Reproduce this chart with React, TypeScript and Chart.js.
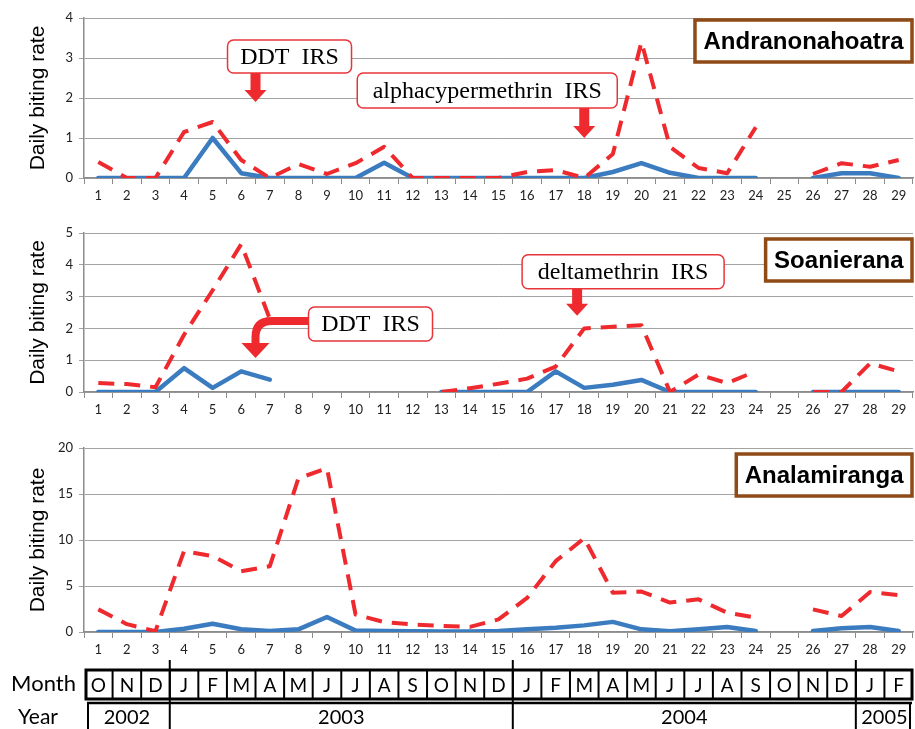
import React, { useEffect, useRef } from "react";
import { Chart, registerables } from "chart.js";
Chart.register(...registerables);

// ---------- DATA ----------
const categories = ["1","2","3","4","5","6","7","8","9","10","11","12","13","14","15","16","17","18","19","20","21","22","23","24","25","26","27","28","29"];
const months = ["O","N","D","J","F","M","A","M","J","J","A","S","O","N","D","J","F","M","A","M","J","J","A","S","O","N","D","J","F"];
const yearLabels = ["2002","2003","2004","2005"];
const yearSpans = [3, 12, 12, 2];

// Andranonahoatra
const blueAndra = [0,0,0,0,1.0,0.12,0,0,0,0,0.38,0,0,0,0,0,0,0,0.15,0.37,0.13,0,0,0,null,0,0.12,0.12,0];
const redAndra = [0.4,0,0,1.15,1.4,0.45,0,0.35,0.1,0.37,0.78,0,0,0,0,0.15,0.2,0,0.6,3.4,0.78,0.25,0.12,1.27,null,0.1,0.37,0.28,0.45];
// Soanierana
const blueSoan = [0,0,0,0.75,0.13,0.65,0.39,null,null,null,null,null,0,0,0,0,0.65,0.13,0.23,0.38,0,0,0,0,null,0,0,0,0];
const redSoan = [0.28,0.25,0.15,1.8,3.2,4.65,2.3,null,null,null,null,null,0,0.12,0.26,0.42,0.8,2.0,2.05,2.1,0,0.55,0.28,0.65,null,0,0,0.9,0.65];
// Analamiranga
const blueAnal = [0,0,0,0.36,0.9,0.29,0.1,0.29,1.63,0.15,0.12,0.08,0.05,0.05,0.1,0.29,0.47,0.72,1.1,0.29,0.07,0.29,0.54,0.1,null,0.1,0.4,0.54,0.1];
const redAnal = [2.46,0.85,0.1,8.8,8.25,6.6,7.15,16.7,17.8,1.9,1.08,0.83,0.65,0.55,1.37,3.7,7.7,10.2,4.27,4.4,3.2,3.55,2.1,1.56,null,2.46,1.74,4.34,4.0];

const RED = "#EE2A2E";
const BLUE = "#3B7CC0";
const GRID = "#A3A3A3";
const AXIS = "#8C8C8C";

type Callout = { text: string; x: number; y: number; box: number[]; kind: "down" | "curve" };
type PanelCfg = {
  site: string; siteDy: number; blue: (number | null)[]; red: (number | null)[];
  yMax: number; yStep: number; top: number; height: number; padTop: number; xAxisH: number;
  callouts: Callout[]; table?: boolean;
};

const panels: PanelCfg[] = [
  {
    site: "Andranonahoatra", siteDy: 2, blue: blueAndra, red: redAndra, yMax: 4, yStep: 1,
    top: 0, height: 200, padTop: 18, xAxisH: 22,
    callouts: [
      { text: "DDT  IRS", x: 5.5, y: 1.9, box: [-28, 96, -62, -29], kind: "down" },
      { text: "alphacypermethrin  IRS", x: 17, y: 1.0, box: [-227, 33, -65, -30], kind: "down" },
    ],
  },
  {
    site: "Soanierana", siteDy: 6, blue: blueSoan, red: redSoan, yMax: 5, yStep: 1,
    top: 200, height: 225, padTop: 33, xAxisH: 33,
    callouts: [
      { text: "deltamethrin  IRS", x: 16.75, y: 2.4, box: [-55, 147, -61, -27], kind: "down" },
      { text: "DDT  IRS", x: 5.5, y: 1.07, box: [53, 177, -51, -17], kind: "curve" },
    ],
  },
  {
    site: "Analamiranga", siteDy: 6, blue: blueAnal, red: redAnal, yMax: 20, yStep: 5,
    top: 425, height: 304, padTop: 23, xAxisH: 97,
    callouts: [], table: true,
  },
];

function makeOverlay(p: PanelCfg) {
  return {
    id: "overlay",
    afterDatasetsDraw(chart: any) {
      const ctx = chart.ctx as CanvasRenderingContext2D;
      const xs = chart.scales.x, ys = chart.scales.y, area = chart.chartArea;
      ctx.save();
      // site label
      ctx.font = 'bold 24px "Liberation Sans", Arial, sans-serif';
      const tw = ctx.measureText(p.site).width;
      const bw = tw + 17, bh = 42;
      const bx = area.right - 1 - bw, by = area.top + p.siteDy;
      ctx.fillStyle = "#fff";
      ctx.fillRect(bx, by, bw, bh);
      ctx.lineWidth = 3.5;
      ctx.strokeStyle = "#8E4A17";
      ctx.strokeRect(bx, by, bw, bh);
      ctx.fillStyle = "#000";
      ctx.textAlign = "center";
      ctx.textBaseline = "middle";
      ctx.fillText(p.site, bx + bw / 2, by + bh / 2 + 1);

      // callouts
      for (const c of p.callouts) {
        const tx = xs.getPixelForValue(c.x);
        const ty = ys.getPixelForValue(c.y);
        const [l, r, t, b] = c.box;
        const x0 = tx + l, x1 = tx + r, y0 = ty + t, y1 = ty + b;
        ctx.fillStyle = RED;
        ctx.strokeStyle = RED;
        if (c.kind === "down") {
          const headH = 12, headW = 22;
          ctx.fillRect(tx - 5, y1, 10, ty - headH - y1 + 1);
          ctx.beginPath();
          ctx.moveTo(tx - headW / 2, ty - headH);
          ctx.lineTo(tx + headW / 2, ty - headH);
          ctx.lineTo(tx, ty);
          ctx.closePath();
          ctx.fill();
        } else {
          const barY = ty - 37;
          ctx.lineWidth = 8;
          ctx.lineCap = "butt";
          ctx.beginPath();
          ctx.moveTo(x0 + 2, barY);
          ctx.lineTo(tx + 16, barY);
          ctx.quadraticCurveTo(tx, barY, tx, barY + 16);
          ctx.lineTo(tx, ty - 13);
          ctx.stroke();
          ctx.beginPath();
          ctx.moveTo(tx - 14, ty - 15);
          ctx.lineTo(tx + 14, ty - 15);
          ctx.lineTo(tx, ty);
          ctx.closePath();
          ctx.fill();
        }
        ctx.beginPath();
        (ctx as any).roundRect(x0, y0, x1 - x0, y1 - y0, 6);
        ctx.fillStyle = "#fff";
        ctx.fill();
        ctx.lineWidth = 1.5;
        ctx.strokeStyle = "#E8353A";
        ctx.stroke();
        ctx.fillStyle = "#000";
        ctx.font = '24px "Liberation Serif", "Times New Roman", serif';
        ctx.textAlign = "center";
        ctx.textBaseline = "middle";
        ctx.fillText(c.text, (x0 + x1) / 2, (y0 + y1) / 2 + 1);
      }
      ctx.restore();
    },
    afterDraw(chart: any) {
      if (!p.table) return;
      const ctx = chart.ctx as CanvasRenderingContext2D;
      const xs = chart.scales.x, area = chart.chartArea;
      const step = xs.getPixelForValue(1) - xs.getPixelForValue(0);
      const edge = (i: number) => xs.getPixelForValue(i) - step / 2;
      const base = area.bottom;
      const left = edge(0) + 2, right = edge(months.length) - 1;
      const mTop = base + 38, mBot = base + 67, yTop = base + 71, yBot = chart.height;
      ctx.save();
      ctx.strokeStyle = "#000";
      ctx.fillStyle = "#000";
      // month row
      ctx.lineWidth = 2;
      for (let i = 1; i < months.length; i++) {
        const x = edge(i);
        ctx.beginPath();
        ctx.moveTo(x, mTop);
        ctx.lineTo(x, mBot);
        ctx.stroke();
      }
      ctx.lineWidth = 3;
      ctx.strokeRect(left, mTop, right - left, mBot - mTop);
      ctx.font = '19px Lato, "Noto Sans", sans-serif';
      ctx.textAlign = "center";
      ctx.textBaseline = "middle";
      months.forEach((m, i) => {
        ctx.fillText(m, xs.getPixelForValue(i), (mTop + mBot) / 2 + 1);
      });
      // year row
      ctx.lineWidth = 2.5;
      ctx.beginPath();
      ctx.moveTo(left + 1, yTop);
      ctx.lineTo(right, yTop);
      ctx.stroke();
      ctx.lineWidth = 2;
      ctx.beginPath();
      ctx.moveTo(left + 2, yTop);
      ctx.lineTo(left + 2, yBot);
      ctx.moveTo(right - 2, yTop);
      ctx.lineTo(right - 2, yBot);
      ctx.stroke();
      let acc = 0;
      ctx.font = '20px Lato, "Noto Sans", sans-serif';
      yearLabels.forEach((yl, k) => {
        const start = acc, end = acc + yearSpans[k];
        if (k > 0) {
          const x = edge(start);
          ctx.beginPath();
          ctx.moveTo(x, base + 28);
          ctx.lineTo(x, yBot);
          ctx.stroke();
        }
        const cx = (edge(start) + edge(end)) / 2;
        ctx.fillText(yl, cx, (yTop + yBot) / 2 + 2);
        acc = end;
      });
      // row headings
      ctx.font = '22px Lato, "Noto Sans", sans-serif';
      ctx.fillText("Month", 43.5, (mTop + mBot) / 2 - 1);
      ctx.font = '21px Lato, "Noto Sans", sans-serif';
      ctx.fillText("Year", 38, (yTop + yBot) / 2 + 1);
      ctx.restore();
    },
  };
}

function Panel({ p }: { p: PanelCfg }) {
  const ref = useRef<HTMLCanvasElement>(null);
  useEffect(() => {
    if (!ref.current) return;
    const chart = new Chart(ref.current, {
      type: "line",
      data: {
        labels: categories,
        datasets: [
          {
            data: p.red, borderColor: RED, borderWidth: 4, borderDash: [16, 10],
            pointRadius: 0, tension: 0, spanGaps: false, borderCapStyle: "butt", borderJoinStyle: "round", fill: false,
          },
          {
            data: p.blue, borderColor: BLUE, borderWidth: 4.5,
            pointRadius: 0, tension: 0, spanGaps: false, borderCapStyle: "round", borderJoinStyle: "round", fill: false,
          },
        ],
      },
      options: {
        animation: false,
        responsive: false,
        events: [],
        layout: { padding: { top: p.padTop, right: 2, left: 0, bottom: 0 } },
        plugins: { legend: { display: false }, tooltip: { enabled: false } },
        scales: {
          x: {
            type: "category",
            offset: true,
            grid: { offset: true, drawOnChartArea: false, drawTicks: true, tickLength: 6, color: AXIS, lineWidth: 1 },
            border: { display: true, color: AXIS, width: 1.5 },
            ticks: { font: { family: "Lato", size: 13 }, color: "#222", padding: 4, maxRotation: 0, autoSkip: false },
            afterFit: (s: any) => { s.height = p.xAxisH; },
          },
          y: {
            min: 0, max: p.yMax,
            ticks: { stepSize: p.yStep, font: { family: "Lato", size: 13 }, color: "#222", padding: 6 },
            grid: { color: GRID, lineWidth: 1, tickLength: 5, drawTicks: true },
            border: { display: true, color: AXIS, width: 1.5 },
            title: {
              display: true, text: "Daily biting rate", color: "#000",
              font: { family: '"Liberation Sans", Arial, sans-serif', size: 21 },
              padding: { top: 26, bottom: 0 },
            },
            afterFit: (s: any) => { s.width = 84; },
          },
        },
      } as any,
      plugins: [makeOverlay(p) as any],
    });
    return () => chart.destroy();
  }, [p]);
  return (
    <canvas
      ref={ref}
      width={915}
      height={p.height}
      style={{ position: "absolute", left: 0, top: p.top, width: 915, height: p.height }}
    />
  );
}

export default function App() {
  return (
    <div style={{ position: "fixed", left: 0, top: 0, width: 915, height: 729, background: "#fff", overflow: "hidden" }}>
      {panels.map((p, i) => (
        <Panel key={i} p={p} />
      ))}
    </div>
  );
}
